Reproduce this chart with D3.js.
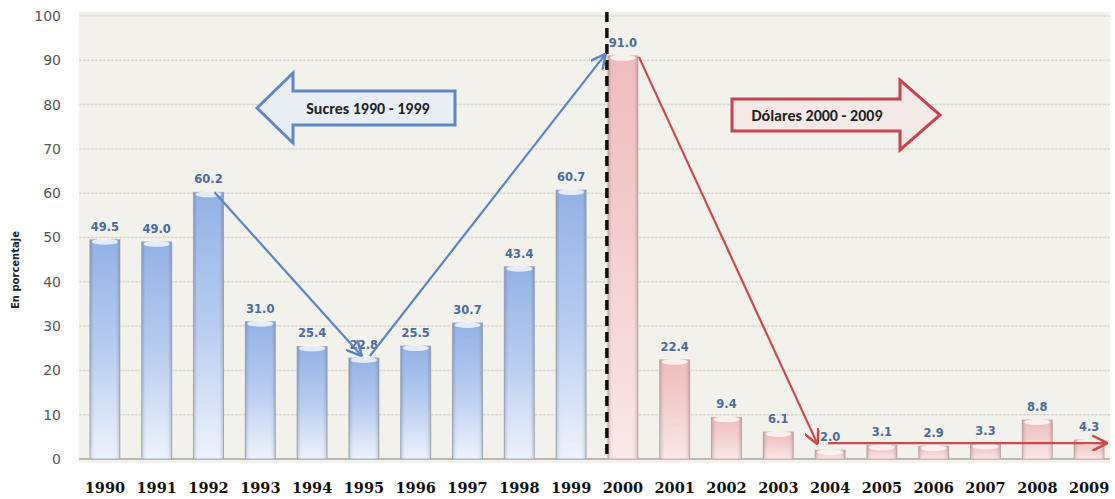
<!DOCTYPE html>
<html>
<head>
<meta charset="utf-8">
<script src="https://cdn.jsdelivr.net/npm/d3@7"></script>
<style>
  body { margin: 0; background: #fff; }
  svg { display: block; }
</style>
</head>
<body>
<div id="chart"></div>
<script>
// Data
var years = ["1990","1991","1992","1993","1994","1995","1996","1997","1998","1999",
             "2000","2001","2002","2003","2004","2005","2006","2007","2008","2009"];
var values = [49.5, 49.0, 60.2, 31.0, 25.4, 22.8, 25.5, 30.7, 43.4, 60.7,
              91.0, 22.4, 9.4, 6.1, 2.0, 3.1, 2.9, 3.3, 8.8, 4.3];
var yTicks = [0, 10, 20, 30, 40, 50, 60, 70, 80, 90, 100];
var sucresLabel = "Sucres 1990 - 1999";
var dolaresLabel = "Dólares 2000 - 2009";

var svgWidth = 1115;
var svgHeight = 499;
var margin = { top: 16, right: 0, bottom: 40, left: 79 };
var chartWidth = 1036;
var chartHeight = 443;

var svg = d3.select("#chart").append("svg")
  .attr("width", svgWidth)
  .attr("height", svgHeight);

var defs = svg.append("defs");
function grad(id, stops) {
  var g = defs.append("linearGradient").attr("id", id)
    .attr("x1", 0).attr("y1", 0).attr("x2", 0).attr("y2", 1);
  stops.forEach(s => g.append("stop").attr("offset", s[0]).attr("stop-color", s[1]));
}
grad("blueGrad", [[0, "#93b1e6"], [0.5, "#b8ccf0"], [1, "#eef3fc"]]);
grad("pinkGrad", [[0, "#efbcbc"], [0.5, "#f4d0d0"], [1, "#fae8e8"]]);
var hg = defs.append("linearGradient").attr("id", "sideShade")
  .attr("x1", 0).attr("y1", 0).attr("x2", 1).attr("y2", 0);
hg.append("stop").attr("offset", 0).attr("stop-color", "#000").attr("stop-opacity", 0.18);
hg.append("stop").attr("offset", 0.2).attr("stop-color", "#fff").attr("stop-opacity", 0);
hg.append("stop").attr("offset", 0.8).attr("stop-color", "#fff").attr("stop-opacity", 0);
hg.append("stop").attr("offset", 1).attr("stop-color", "#000").attr("stop-opacity", 0.18);

defs.append("marker").attr("id", "arrBlue").attr("viewBox", "0 0 10 10")
  .attr("refX", 9).attr("refY", 5).attr("markerWidth", 7).attr("markerHeight", 7)
  .attr("orient", "auto")
  .append("path").attr("d", "M0,0 L10,5 L0,10").attr("fill", "none")
  .attr("stroke", "#5b84c4").attr("stroke-width", 1.6);
defs.append("marker").attr("id", "arrRed").attr("viewBox", "0 0 10 10")
  .attr("refX", 9).attr("refY", 5).attr("markerWidth", 7).attr("markerHeight", 7)
  .attr("orient", "auto")
  .append("path").attr("d", "M0,0 L10,5 L0,10").attr("fill", "none")
  .attr("stroke", "#cc4a4a").attr("stroke-width", 1.6);

var chartGroup = svg.append("g")
  .attr("transform", `translate(${margin.left}, ${margin.top})`);

var x = d3.scaleBand().domain(years).range([0, chartWidth]).paddingInner(0.42).paddingOuter(0.21);
var y = d3.scaleLinear().domain([0, 100]).range([chartHeight, 0]);

// plot background
chartGroup.append("rect")
  .attr("x", 0).attr("y", -4)
  .attr("width", 1031).attr("height", chartHeight + 8)
  .attr("fill", "#f3f1eb");

// gridlines
chartGroup.append("g").selectAll("line").data(yTicks).join("line")
  .attr("x1", 0).attr("x2", 1031)
  .attr("y1", d => y(d)).attr("y2", d => y(d))
  .attr("stroke", d => d === 0 ? "#bdb9b0" : "#dcd8cf")
  .attr("stroke-width", d => d === 0 ? 2 : 1.5)
  .attr("stroke-dasharray", d => d === 0 ? null : "3,1");

// y axis
var leftAxis = d3.axisLeft(y).tickValues(yTicks).tickSize(0).tickPadding(18);
var ya = chartGroup.append("g").call(leftAxis);
ya.select(".domain").remove();
ya.selectAll("text").attr("font-family", "Verdana, 'DejaVu Sans', sans-serif")
  .attr("font-size", 14).attr("fill", "#555");

svg.append("text")
  .attr("transform", "translate(19, 270) rotate(-90)")
  .attr("text-anchor", "middle")
  .attr("font-family", "'DejaVu Sans', sans-serif")
  .attr("font-size", 10).attr("font-weight", "bold").attr("fill", "#222")
  .text("En porcentaje");

// x axis
var bottomAxis = d3.axisBottom(x).tickSize(0).tickPadding(24);
var xa = chartGroup.append("g").attr("transform", `translate(0, ${chartHeight})`).call(bottomAxis);
xa.select(".domain").remove();
xa.selectAll("text").attr("font-family", "'DejaVu Serif', Georgia, serif")
  .attr("font-size", 14.5).attr("font-weight", "bold").attr("fill", "#111");

// bars
var bars = chartGroup.append("g").selectAll("g").data(values).join("g");
bars.append("rect")
  .attr("x", (d, i) => x(years[i]))
  .attr("y", d => y(d))
  .attr("width", x.bandwidth())
  .attr("height", d => chartHeight - y(d))
  .attr("fill", (d, i) => i < 10 ? "url(#blueGrad)" : "url(#pinkGrad)")
  .attr("stroke", (d, i) => i < 10 ? "#a9b6cc" : "#d8b4b4")
  .attr("stroke-width", 1);
bars.append("rect")
  .attr("x", (d, i) => x(years[i]))
  .attr("y", d => y(d))
  .attr("width", x.bandwidth())
  .attr("height", d => chartHeight - y(d))
  .attr("fill", "url(#sideShade)");
bars.append("ellipse")
  .attr("cx", (d, i) => x(years[i]) + x.bandwidth() / 2)
  .attr("cy", d => y(d) + 2)
  .attr("rx", x.bandwidth() / 2 - 2).attr("ry", 3)
  .attr("fill", "#fff").attr("opacity", 0.75);

// value labels
chartGroup.append("g").selectAll("text").data(values).join("text")
  .attr("x", (d, i) => x(years[i]) + x.bandwidth() / 2)
  .attr("y", d => y(d) - 9)
  .attr("text-anchor", "middle")
  .attr("font-family", "Verdana, 'DejaVu Sans', sans-serif")
  .attr("font-size", 11.5).attr("font-weight", "bold")
  .attr("fill", "#4a6b9c")
  .text(d => d.toFixed(1));

// dashed divider between 1999 and 2000
var divX = x("2000") - 1;
chartGroup.append("line")
  .attr("x1", divX).attr("x2", divX)
  .attr("y1", y(100) - 4).attr("y2", chartHeight)
  .attr("stroke", "#111").attr("stroke-width", 3.5)
  .attr("stroke-dasharray", "10,6");

// trend arrows
function cx(yr) { return x(yr) + x.bandwidth() / 2; }
function arrow(x1, y1, x2, y2, color, marker) {
  chartGroup.append("line")
    .attr("x1", x1).attr("y1", y1).attr("x2", x2).attr("y2", y2)
    .attr("stroke", color).attr("stroke-width", 2.2)
    .attr("marker-end", marker);
}
var blue = "#5b84c4", red = "#cc4a4a";
var i92 = years.indexOf("1992"), i95 = years.indexOf("1995"), i00 = years.indexOf("2000"), i04 = years.indexOf("2004"), i09 = years.indexOf("2009");
arrow(cx("1992") + 6, y(values[i92]), cx("1995") - 3, y(values[i95]) - 3, blue, "url(#arrBlue)");
arrow(cx("1995") + 6, y(values[i95]) - 2, x("2000") - 3, y(values[i00]) - 1, blue, "url(#arrBlue)");
arrow(x("2000") + x.bandwidth() + 1, y(values[i00]) + 1, cx("2004") - 13, y(values[i04]) - 7, red, "url(#arrRed)");
arrow(cx("2004") - 2, y(values[i04]) - 7, cx(years[i09]) + 17, y(values[i04]) - 7, red, "url(#arrRed)");

// block arrow labels
function blockArrow(cxp, cyp, bodyW, bodyH, headW, headH, dir, stroke, fill) {
  var pts;
  var hb = bodyH / 2, hh = headH / 2;
  if (dir === "left") {
    var tip = cxp - (bodyW + headW) / 2, neck = tip + headW, end = neck + bodyW;
    pts = [[tip, cyp], [neck, cyp - hh], [neck, cyp - hb], [end, cyp - hb], [end, cyp + hb], [neck, cyp + hb], [neck, cyp + hh]];
  } else {
    var start = cxp - (bodyW + headW) / 2, neck2 = start + bodyW, tip2 = neck2 + headW;
    pts = [[start, cyp - hb], [neck2, cyp - hb], [neck2, cyp - hh], [tip2, cyp], [neck2, cyp + hh], [neck2, cyp + hb], [start, cyp + hb]];
  }
  svg.append("polygon")
    .attr("points", pts.map(p => p.join(",")).join(" "))
    .attr("fill", fill).attr("stroke", stroke).attr("stroke-width", 3)
    .attr("stroke-linejoin", "miter");
}
blockArrow(356, 108, 162, 34, 36, 70, "left", "#5e88c8", "#e9edf4");
svg.append("text").attr("x", 368).attr("y", 114).attr("text-anchor", "middle")
  .attr("font-family", "Calibri, Carlito, 'Liberation Sans', sans-serif")
  .attr("font-size", 16).attr("font-weight", "bold").attr("fill", "#222")
  .text(sucresLabel);

blockArrow(836, 115, 168, 32, 40, 70, "right", "#c9444a", "#f3e9e6");
svg.append("text").attr("x", 817).attr("y", 121).attr("text-anchor", "middle")
  .attr("font-family", "Calibri, Carlito, 'Liberation Sans', sans-serif")
  .attr("font-size", 16).attr("font-weight", "bold").attr("fill", "#222")
  .text(dolaresLabel);
</script>
</body>
</html>
